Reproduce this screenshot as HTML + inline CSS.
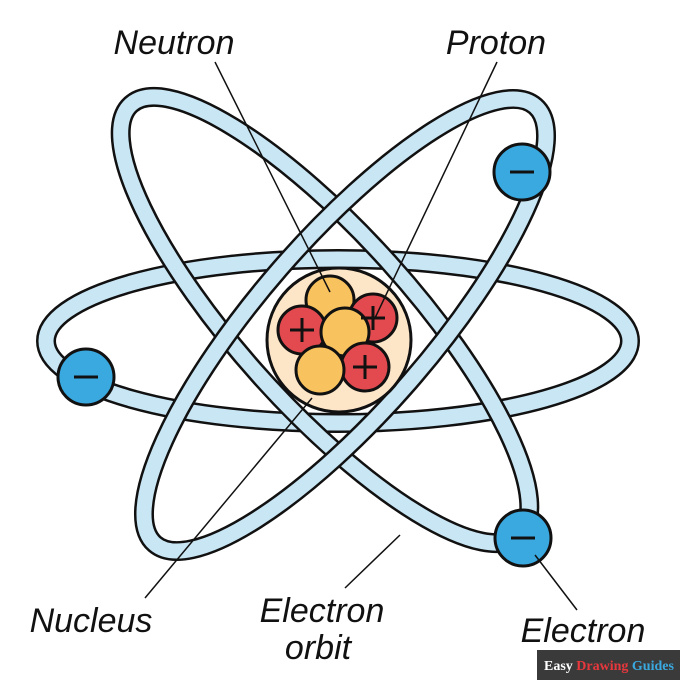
<!DOCTYPE html><html><head><style>body{margin:0;background:#fff}svg{display:block}</style></head><body>
<svg width="680" height="680" viewBox="0 0 680 680" xmlns="http://www.w3.org/2000/svg">
<g fill="none">
<ellipse cx="338" cy="341" rx="292" ry="82" stroke="#111" stroke-width="20"/>
<ellipse cx="338" cy="341" rx="292" ry="82" stroke="#c9e6f5" stroke-width="15"/>
<g transform="rotate(48 325 320)">
<ellipse cx="325" cy="320" rx="290" ry="86" stroke="#111" stroke-width="20"/>
<ellipse cx="325" cy="320" rx="290" ry="86" stroke="#c9e6f5" stroke-width="15"/>
</g>
<g transform="rotate(-49 345 325)">
<ellipse cx="345" cy="325" rx="290" ry="86" stroke="#111" stroke-width="20"/>
<ellipse cx="345" cy="325" rx="290" ry="86" stroke="#c9e6f5" stroke-width="15"/>
</g>
</g>
<circle cx="339" cy="340" r="72" fill="#fde6c8" stroke="#111" stroke-width="3"/>
<g stroke="#111" stroke-width="3">
<circle cx="330" cy="300" r="24" fill="#f8c25e"/>
<circle cx="302" cy="330" r="24" fill="#e24a4f"/>
<circle cx="373" cy="318" r="24" fill="#e24a4f"/>
<circle cx="345" cy="332" r="24" fill="#f8c25e"/>
<circle cx="365" cy="367" r="24" fill="#e24a4f"/>
<circle cx="320" cy="370" r="24" fill="#f8c25e"/>
<path d="M290 330h24M302 318v24M361 318h24M373 306v24M353 367h24M365 355v24" stroke-width="3"/>
</g>
<g stroke="#111" stroke-width="3" fill="#3aa9e0">
<circle cx="522" cy="172" r="28"/><circle cx="86" cy="377" r="28"/><circle cx="523" cy="538" r="28"/>
<path d="M510 172h24M74 377h24M511 538h24"/>
</g>
<g stroke="#111" stroke-width="1.5">
<line x1="215" y1="62" x2="330" y2="292"/>
<line x1="497" y1="62" x2="375" y2="318"/>
<line x1="145" y1="598" x2="312" y2="398"/>
<line x1="345" y1="588" x2="400" y2="535"/>
<line x1="577" y1="610" x2="535" y2="555"/>
</g>
<g font-family="Liberation Sans, sans-serif" font-style="italic" font-size="34" fill="#111" text-anchor="middle">
<text x="174" y="54">Neutron</text>
<text x="496" y="54">Proton</text>
<text x="91" y="632">Nucleus</text>
<text x="322" y="622">Electron</text>
<text x="318" y="659">orbit</text>
<text x="583" y="642">Electron</text>
</g>
<rect x="537" y="650" width="143" height="30" fill="#3a3a3a"/>
<text x="544" y="670" font-family="Liberation Serif, serif" font-weight="bold" font-size="14"><tspan fill="#fff">Easy </tspan><tspan fill="#e8383d">Drawing </tspan><tspan fill="#3aa9e0">Guides</tspan></text>
</svg>
</body></html>
